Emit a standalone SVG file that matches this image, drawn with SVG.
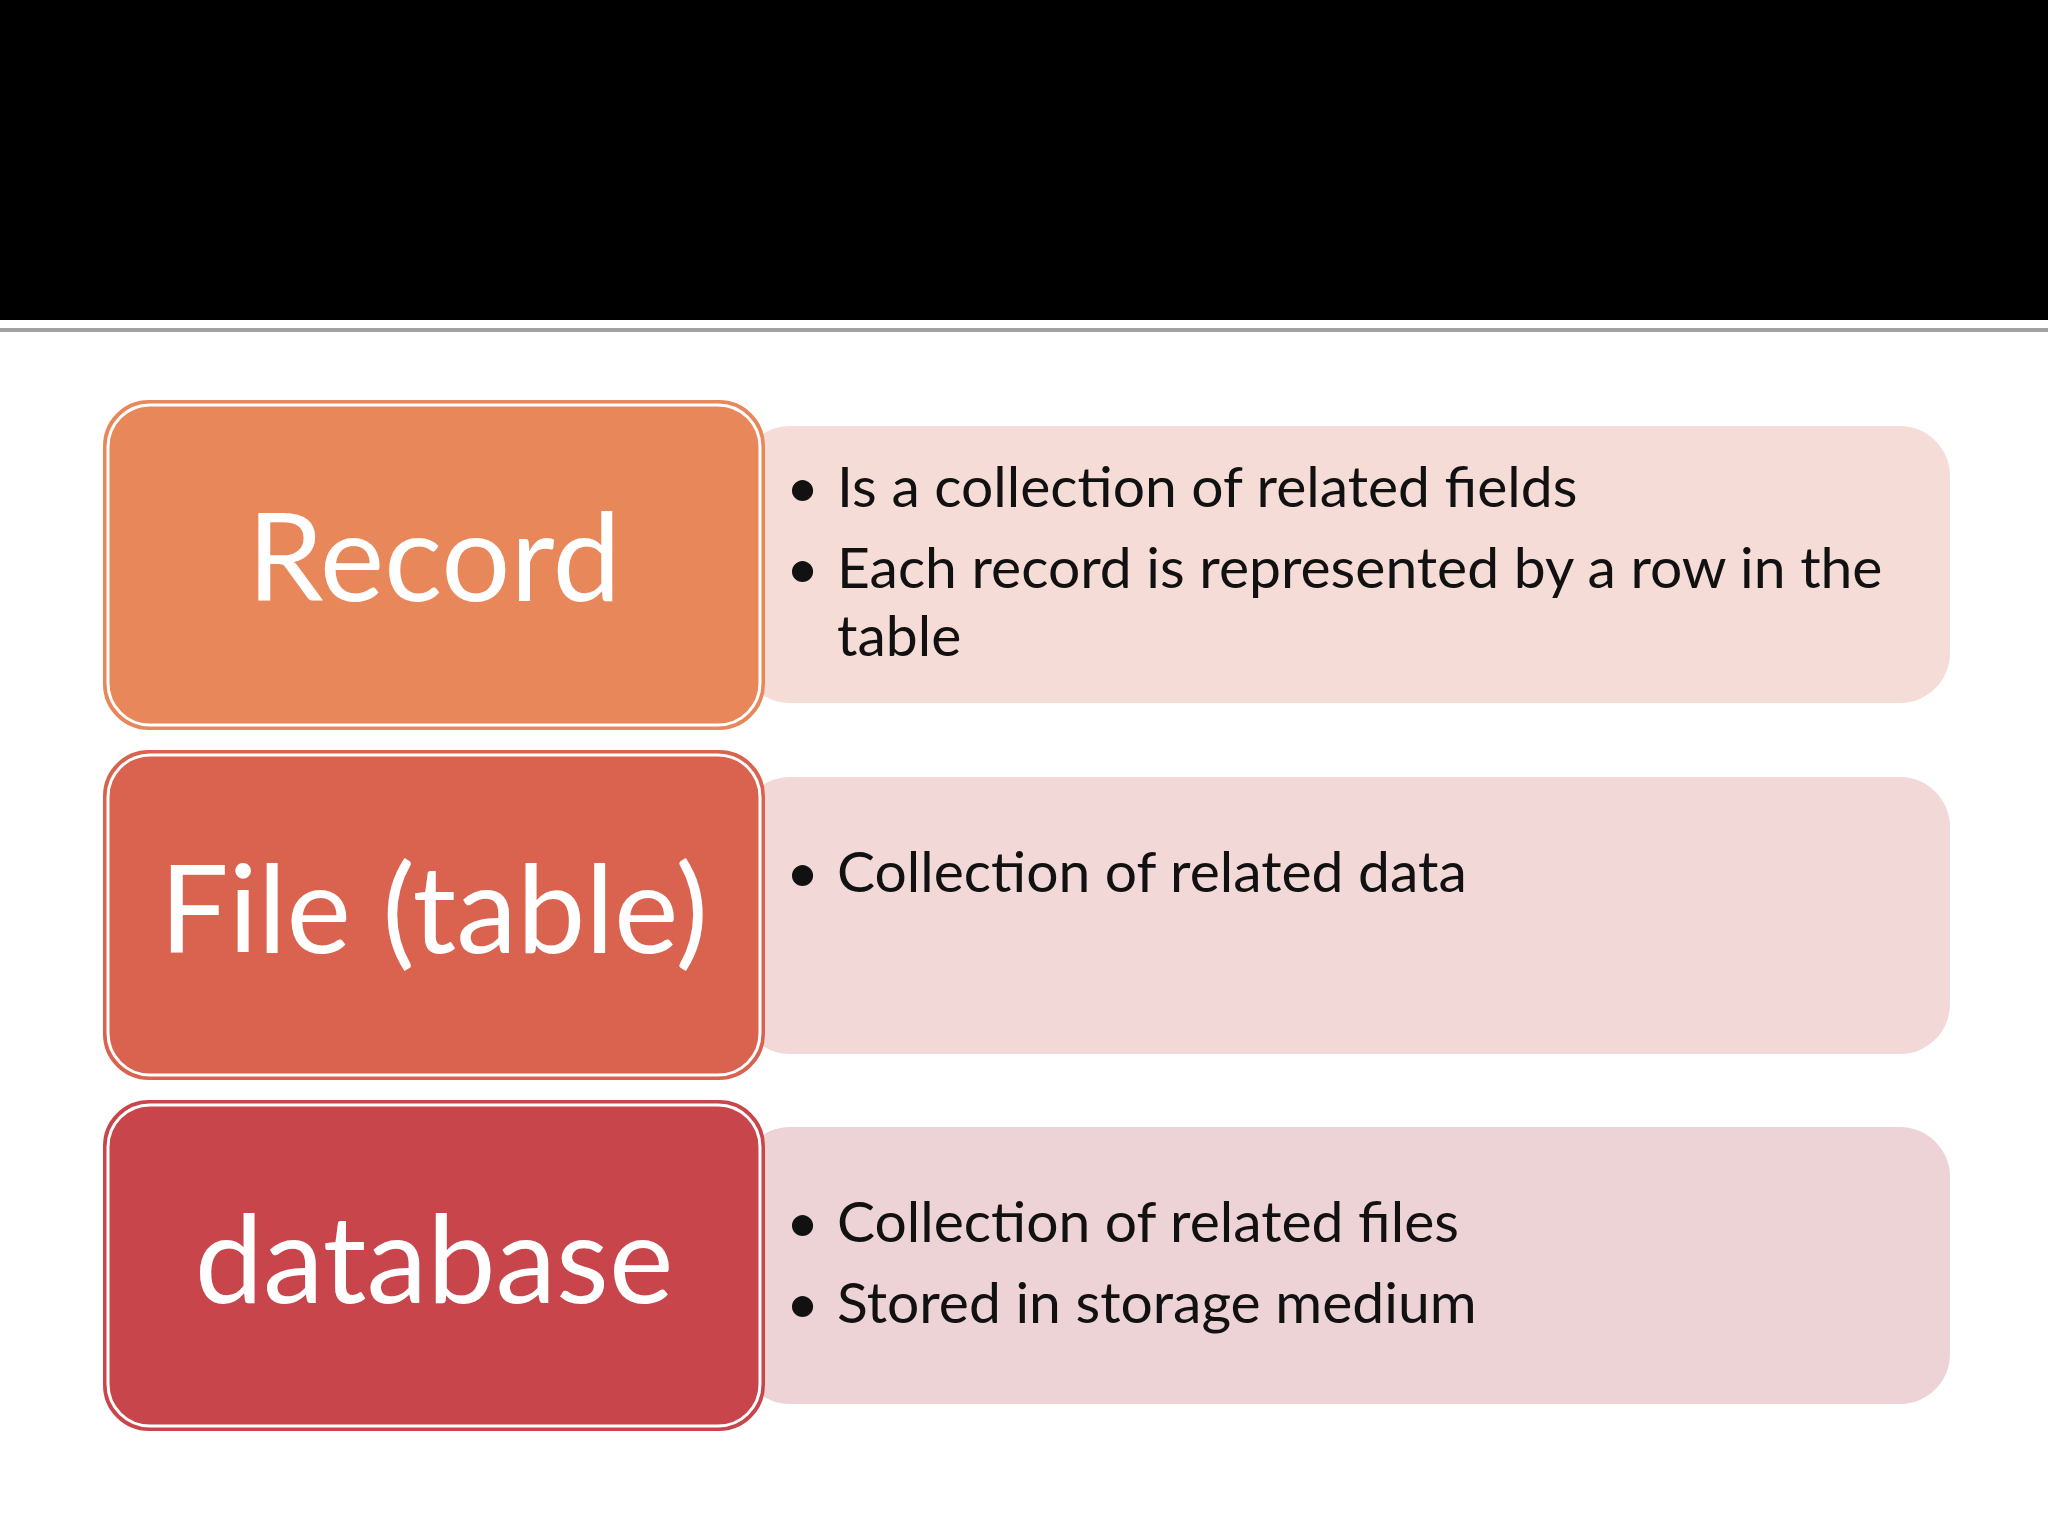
<svg xmlns="http://www.w3.org/2000/svg" width="2048" height="1536" viewBox="0 0 2048 1536">
<style>
.t{font-family:Lato,"Open Sans",sans-serif;font-size:122px;fill:#fff;text-anchor:middle}
.b{font-family:Lato,"Open Sans",sans-serif;font-size:57px;fill:#111}
.box{stroke:#fff;stroke-width:3}
</style>
<rect width="2048" height="1536" fill="#fff"/>
<rect width="2048" height="320" fill="#000"/>
<rect y="328" width="2048" height="4" fill="#a0a0a0"/>
<g id="record">
<rect x="740" y="426" width="1210" height="277" rx="50" fill="#F6DCD6"/>
<rect x="104" y="401" width="660" height="328" rx="45" fill="#E8875A" stroke="#E8875A" stroke-width="2"/>
<rect x="108" y="405" width="652" height="320" rx="42" fill="none" class="box"/>
<text class="t" x="434" y="601">Record</text>
<text class="b" x="786" y="507">•</text><text class="b" x="837" y="507">Is a collection of related fields</text>
<text class="b" x="786" y="588">•</text><text class="b" x="837" y="588">Each record is represented by a row in the</text>
<text class="b" x="837" y="656">table</text>
</g>
<g id="file">
<rect x="740" y="777" width="1210" height="277" rx="50" fill="#F2D8D6"/>
<rect x="104" y="751" width="660" height="328" rx="45" fill="#D9634F" stroke="#D9634F" stroke-width="2"/>
<rect x="108" y="755" width="652" height="320" rx="42" fill="none" class="box"/>
<text class="t" x="434" y="953">File (table)</text>
<text class="b" x="786" y="892">•</text><text class="b" x="837" y="892">Collection of related data</text>
</g>
<g id="database">
<rect x="740" y="1127" width="1210" height="277" rx="50" fill="#EDD3D6"/>
<rect x="104" y="1101" width="660" height="329" rx="45" fill="#C8464B" stroke="#C8464B" stroke-width="2"/>
<rect x="108" y="1105" width="652" height="321" rx="42" fill="none" class="box"/>
<text class="t" x="434" y="1303">database</text>
<text class="b" x="786" y="1242">•</text><text class="b" x="837" y="1242">Collection of related files</text>
<text class="b" x="786" y="1323">•</text><text class="b" x="837" y="1323">Stored in storage medium</text>
</g>
<g id="connectors"/>
</svg>
